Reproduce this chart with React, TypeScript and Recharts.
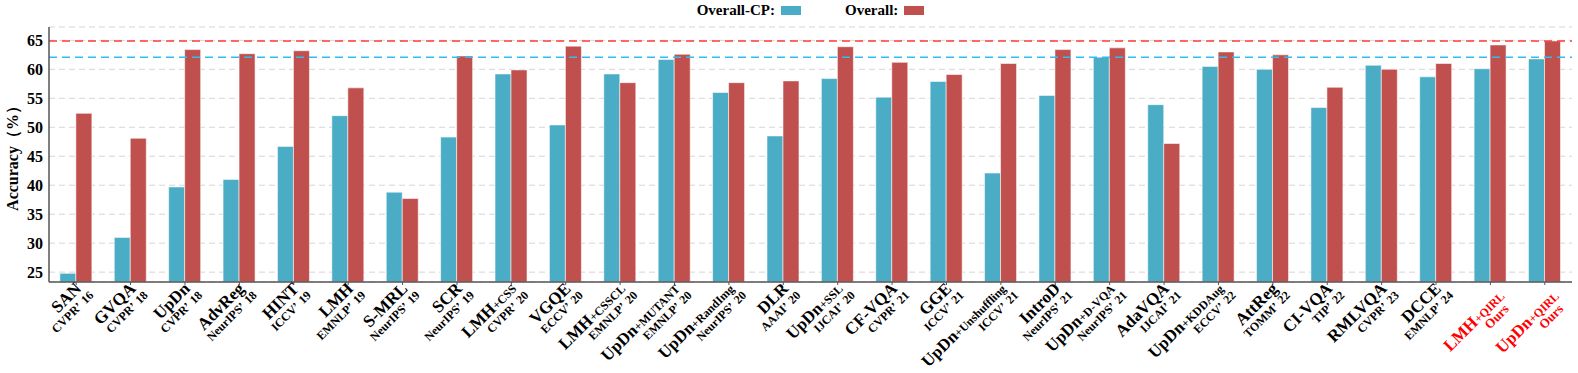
import React from 'react';
import { BarChart, Bar, XAxis, YAxis, CartesianGrid, ReferenceLine } from 'recharts';

const methods = ['SAN', 'GVQA', 'UpDn', 'AdvReg', 'HINT', 'LMH', 'S-MRL', 'SCR', 'LMH', 'VGQE', 'LMH', 'UpDn', 'UpDn', 'DLR', 'UpDn', 'CF-VQA', 'GGE', 'UpDn', 'IntroD', 'UpDn', 'AdaVQA', 'UpDn', 'AttReg', 'CI-VQA', 'RMLVQA', 'DCCE', 'LMH', 'UpDn'];
const suffixes = ['', '', '', '', '', '', '', '', '+CSS', '', '+CSSCL', '+MUTANT', '+RandImg', '', '+SSL', '', '', '+Unshuffling', '', '+D-VQA', '', '+KDDAug', '', '', '', '', '+QIRL', '+QIRL'];
const venues = ['CVPR', 'CVPR', 'CVPR', 'NeurIPS', 'ICCV', 'EMNLP', 'NeurIPS', 'NeurIPS', 'CVPR', 'ECCV', 'EMNLP', 'EMNLP', 'NeurIPS', 'AAAI', 'IJCAI', 'CVPR', 'ICCV', 'ICCV', 'NeurIPS', 'NeurIPS', 'IJCAI', 'ECCV', 'TOMM', 'TIP', 'CVPR', 'EMNLP', 'Ours', 'Ours'];
const years = ['16', '18', '18', '18', '19', '19', '19', '19', '20', '20', '20', '20', '20', '20', '20', '21', '21', '21', '21', '21', '21', '22', '22', '22', '23', '24', '', ''];
const overallCP = [24.8, 31.0, 39.7, 41.0, 46.7, 52.0, 38.8, 48.3, 59.2, 50.4, 59.2, 61.7, 56.0, 48.5, 58.4, 55.2, 57.9, 42.1, 55.5, 62.1, 53.9, 60.5, 60.0, 53.4, 60.7, 58.7, 60.1, 61.8];
const overall = [52.4, 48.1, 63.4, 62.7, 63.2, 56.8, 37.7, 62.3, 59.9, 64.0, 57.7, 62.6, 57.7, 58.0, 63.9, 61.2, 59.1, 61.0, 63.4, 63.7, 47.2, 63.0, 62.5, 56.9, 60.0, 61.0, 64.2, 64.9];
const yTicks = [25, 30, 35, 40, 45, 50, 55, 60, 65];

const BLUE = '#4BACC6';
const RED = '#C0504D';
const FONT = "'Times New Roman', 'Liberation Serif', serif";

const data = methods.map((m, i) => ({
  name: m + suffixes[i],
  cp: overallCP[i],
  all: overall[i],
}));

const bestCP = Math.max(...overallCP);
const bestAll = Math.max(...overall);

const MethodTick = (props: any) => {
  const { x, y, index } = props;
  const ours = venues[index] === 'Ours';
  if (ours) {
    return (
      <g transform={`translate(${x + 15},${y + 10}) rotate(-45)`} fontFamily={FONT} fontWeight="bold" fill="#ff0000">
        <text x={0} y={0} textAnchor="end">
          <tspan fontSize={17}>{methods[index]}</tspan>
          <tspan fontSize={12}>{suffixes[index]}</tspan>
        </text>
        <text x={-6} y={12} textAnchor="end" fontSize={13}>{venues[index]}</text>
      </g>
    );
  }
  return (
    <g transform={`translate(${x + 18},${y + 9}) rotate(-45)`} fontFamily={FONT} fontWeight="bold" fill="#000">
      <text x={-4} y={-13} textAnchor="end">
        <tspan fontSize={17}>{methods[index]}</tspan>
        <tspan fontSize={12}>{suffixes[index]}</tspan>
      </text>
      <text x={0} y={0} textAnchor="end" fontSize={12}>
        <tspan>{venues[index] + '’'}</tspan>
        <tspan dx={4}>{years[index]}</tspan>
      </text>
    </g>
  );
};

const LegendBox = () => (
  <div
    style={{
      position: 'absolute',
      top: 0,
      left: 43,
      width: 1535,
      height: 21,
      display: 'flex',
      justifyContent: 'center',
      alignItems: 'center',
      fontFamily: FONT,
      fontWeight: 'bold',
      fontSize: 15,
    }}
  >
    <span>Overall-CP:</span>
    <span style={{ display: 'inline-block', width: 20, height: 9, background: BLUE, marginLeft: 6, marginRight: 44 }} />
    <span>Overall:</span>
    <span style={{ display: 'inline-block', width: 20, height: 9, background: RED, marginLeft: 6 }} />
  </div>
);

export default function App() {
  return (
    <div style={{ position: 'absolute', left: 0, top: 0, width: 1578, height: 373, background: '#fff' }}>
      <BarChart
        width={1578}
        height={373}
        data={data}
        margin={{ top: 27, right: 6, bottom: 0, left: 5 }}
        barCategoryGap="20%"
        barGap={0}
      >
        <CartesianGrid vertical={false} stroke="#d6d6d6" strokeDasharray="6 4" />
        <XAxis
          dataKey="name"
          interval={0}
          height={91}
          tickSize={3}
          tick={<MethodTick />}
          axisLine={{ stroke: '#555', strokeWidth: 1.5 }}
          tickLine={{ stroke: '#555' }}
        />
        <XAxis xAxisId="top" orientation="top" dataKey="name" height={0} tick={false} tickLine={false} axisLine={{ stroke: '#555', strokeWidth: 1.5 }} />
        <YAxis
          domain={[23.3, 67.3]}
          ticks={yTicks}
          allowDataOverflow
          width={44}
          tickSize={0}
          tickMargin={6}
          axisLine={{ stroke: '#555', strokeWidth: 1.5 }}
          tick={{ fontFamily: FONT, fontWeight: 'bold', fontSize: 16, fill: '#000' }}
          label={{
            value: 'Accuracy（%）',
            angle: -90,
            position: 'insideLeft',
            dx: 2,
            style: { fontFamily: FONT, fontWeight: 'bold', fontSize: 16, fill: '#000', textAnchor: 'middle' },
          }}
        />
        <YAxis yAxisId="right" orientation="right" width={0} domain={[23.3, 67.3]} tick={false} tickLine={false} axisLine={{ stroke: '#555', strokeWidth: 1.5 }} />
        <Bar dataKey="cp" fill={BLUE} stroke="#ffffff" strokeOpacity={0.55} strokeWidth={1} isAnimationActive={false} />
        <Bar dataKey="all" fill={RED} stroke="#ffffff" strokeOpacity={0.55} strokeWidth={1} isAnimationActive={false} />
        <ReferenceLine y={bestAll} stroke="#ff3b3b" strokeWidth={1.5} strokeDasharray="8 5" />
        <ReferenceLine y={bestCP} stroke="#2fbdf2" strokeWidth={1.5} strokeDasharray="8 5" />
      </BarChart>
      <LegendBox />
    </div>
  );
}
